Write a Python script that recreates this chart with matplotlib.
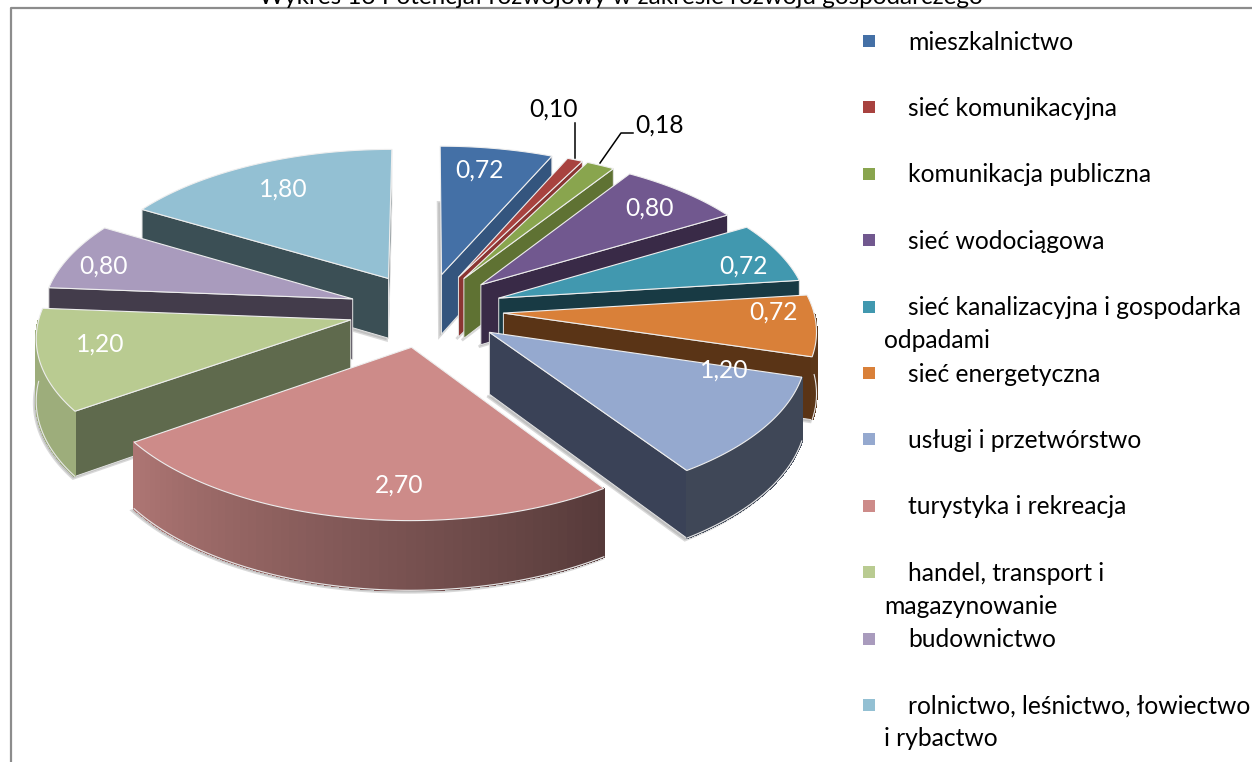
import matplotlib
matplotlib.use("Agg")
import matplotlib.pyplot as plt
import numpy as np
from matplotlib.patches import Polygon, Rectangle

plt.rcParams['font.family'] = ['Lato', 'DejaVu Sans']

# data
categories = ['mieszkalnictwo', 'sieć komunikacyjna', 'komunikacja publiczna', 'sieć wodociągowa',
              'sieć kanalizacyjna i gospodarka\nodpadami', 'sieć energetyczna', 'usługi i przetwórstwo',
              'turystyka i rekreacja', 'handel, transport i\nmagazynowanie', 'budownictwo',
              'rolnictwo, leśnictwo, łowiectwo\ni rybactwo']
values = [0.72, 0.10, 0.18, 0.80, 0.72, 0.72, 1.20, 2.70, 1.20, 0.80, 1.80]
title = 'Wykres 13 Potencjał rozwojowy w zakresie rozwoju gospodarczego'

# style
top_colors = ['#4470a6', '#a8423f', '#89a54e', '#71588f', '#4198af', '#d98039',
              '#95a9cf', '#cd8b89', '#b9cb91', '#a99bbd', '#93c0d3']
wall_colors = ['#34557e', '#8b3532', '#5f7233', '#392a47', '#183a44', '#5a3416',
               '#3a4257', '#533735', '#5f6a4d', '#433c4b', '#3b4f55']
label_xy = [(479, 170), (553, 109), (660, 125), (649, 208), (743, 266), (773, 312),
            (724, 370), (399, 485), (100, 344), (103, 266), (283, 189)]

# pie projection, roughly what excel does with the 3d exploded pie
cx, cy = 426, 310
A, B = 310, 148
p = 0.1
h = 61
explode = 0.25


def project(X, Y, z=0):
    w = 1 + p * Y
    return cx + A * X / w, cy - B * Y / w + z * h / w


def darken(col, f):
    return tuple(c * f for c in matplotlib.colors.to_rgb(col))


fig = plt.figure(figsize=(12.52, 7.62), dpi=100)
ax = fig.add_axes([0, 0, 1, 1])
ax.set_xlim(0, 1252)
ax.set_ylim(762, 0)
ax.axis('off')

# chart frame
ax.plot([1252, 10.5, 10.5], [8, 8, 762], color='#8c8c8c', lw=1.6, zorder=1)
ax.text(621, -2, title, ha='center', va='center', fontsize=17.5, color='black')

angles = np.cumsum([0] + values) / sum(values) * 360
mids = (angles[:-1] + angles[1:]) / 2
order = np.argsort(-np.cos(np.radians(mids)))

z = 2
for i in order:
    t0, t1, m = angles[i], angles[i + 1], np.radians(mids[i])
    ox, oy = explode * np.sin(m), explode * np.cos(m)
    t = np.radians(np.linspace(t0, t1, 80))
    arc_X, arc_Y = ox + np.sin(t), oy + np.cos(t)

    # soft shadow under the slice
    sx, sy = project(np.r_[ox, arc_X], np.r_[oy, arc_Y], 1)
    ax.add_patch(Polygon(np.c_[sx - 2, sy + 2], closed=True, fc='#9a9a9a', ec='#c0c0c0', lw=2,
                         alpha=0.6, zorder=z))
    z += 1

    # radial walls, only the ones facing the viewer
    for ang, visible in ((t0, np.sin(np.radians(t0)) < 0), (t1, np.sin(np.radians(t1)) > 0)):
        if not visible:
            continue
        ex, ey = ox + np.sin(np.radians(ang)), oy + np.cos(np.radians(ang))
        x0, y0 = project(ox, oy, 0)
        x1, y1 = project(ex, ey, 0)
        x2, y2 = project(ex, ey, 1)
        x3, y3 = project(ox, oy, 1)
        ax.add_patch(Polygon([(x0, y0), (x1, y1), (x2, y2), (x3, y3)], closed=True,
                             fc=wall_colors[i], ec='#e4e4e4', lw=0.7, zorder=z))
        z += 1

    # outer wall, front half of the arc, shaded by angle
    for a, b in zip(np.linspace(t0, t1, 60)[:-1], np.linspace(t0, t1, 60)[1:]):
        if np.cos(np.radians((a + b) / 2)) > 0:
            continue
        ra, rb = np.radians(a), np.radians(b)
        xa, ya = project(ox + np.sin(ra), oy + np.cos(ra), 0)
        xb, yb = project(ox + np.sin(rb), oy + np.cos(rb), 0)
        xc, yc = project(ox + np.sin(rb), oy + np.cos(rb), 1)
        xd, yd = project(ox + np.sin(ra), oy + np.cos(ra), 1)
        f = 0.42 + (np.clip(a, 146, 235) - 146) / 89 * 0.43
        col = darken(top_colors[i], f)
        ax.add_patch(Polygon([(xa, ya), (xb, yb), (xc, yc), (xd, yd)], closed=True,
                             fc=col, ec=col, lw=1, antialiased=False, zorder=z))
    z += 1
    # light line along the bottom of the outer wall
    front = np.cos(t) <= 0
    if front.any():
        bx, by = project(arc_X[front], arc_Y[front], 1)
        ax.plot(bx, by, color='#e8e8e8', lw=0.8, zorder=z)
        z += 1

    # top face
    tx, ty = project(np.r_[ox, arc_X], np.r_[oy, arc_Y], 0)
    ax.add_patch(Polygon(np.c_[tx, ty], closed=True, fc=top_colors[i], ec='#eeeeee', lw=0.8, zorder=z))
    z += 1

# value labels
for i, (lx, ly) in enumerate(label_xy):
    col = 'black' if values[i] < 0.5 else 'white'
    ax.text(lx, ly, f'{values[i]:.2f}'.replace('.', ','), ha='center', va='center',
            fontsize=17.7, color=col, zorder=z + 1)

# leader lines for the two small slices
ax.plot([575, 575], [123, 158], color='black', lw=1.1, zorder=z)
ax.plot([633, 621, 600], [133, 133, 163], color='black', lw=1.1, zorder=z)

# legend
for i, name in enumerate(categories):
    y = 41 + i * 66.4
    ax.add_patch(Rectangle((863, y - 6), 12, 12, fc=top_colors[i], ec='none', zorder=z))
    lines = name.split('\n')
    ax.text(908, y + 1, lines[0], ha='left', va='center', fontsize=17.7, color='black')
    if len(lines) > 1:
        ax.text(884, y + 34, lines[1], ha='left', va='center', fontsize=17.7, color='black')

fig.savefig('out.png', dpi=100)
